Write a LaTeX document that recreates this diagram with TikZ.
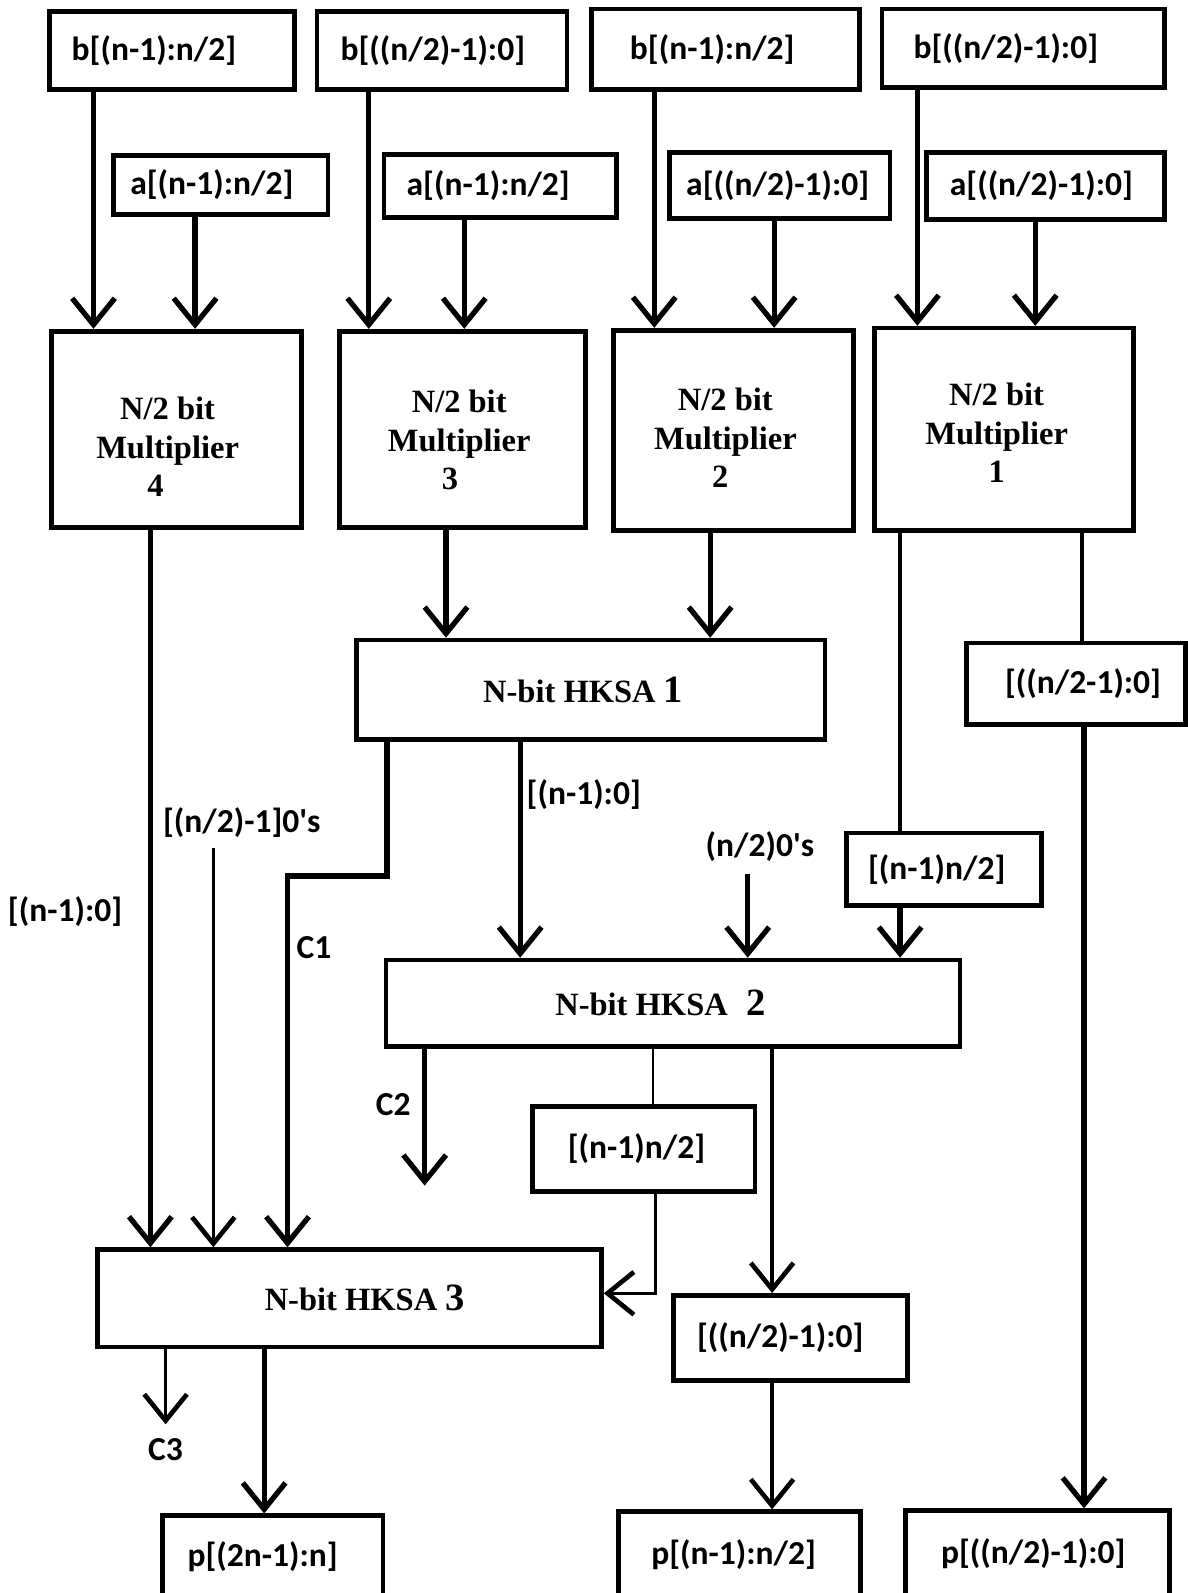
\documentclass[tikz,border=0pt]{standalone}
\usepackage{fontspec}
\setmainfont{Liberation Serif}
\newfontfamily\labfont{Carlito}
\usetikzlibrary{arrows.meta}
\begin{document}
\begin{tikzpicture}[x=0.5pt,y=-0.5pt,
  box/.style={draw, line width=2.3pt, inner sep=0pt, font=\labfont\bfseries\fontsize{16.5}{19}\selectfont},
  tbox/.style={draw, line width=2.3pt, inner sep=0pt, font=\bfseries\fontsize{16}{19}\selectfont},
  mtext/.style={align=center, inner sep=0pt, font=\bfseries\fontsize{16}{19}\selectfont},
  lab/.style={inner sep=0pt, font=\labfont\bfseries\fontsize{16.5}{19}\selectfont},
  tip/.style={-{Straight Barb[length=13pt,width=21pt]}},
  midtip/.style={-{Straight Barb[length=13pt,width=21pt,line width=2.3pt]}},
  thickarrow/.style={line width=2.6pt, tip, line join=miter},
  midarrow/.style={line width=1.7pt, midtip, line join=miter},
  midwire/.style={line width=1.7pt},
  thinwire/.style={line width=1.1pt},
]
\fill[white] (0,0) rectangle (1169,1568);
\useasboundingbox (0,0) rectangle (1169,1568);

% top b boxes
\node[box, minimum width=120.5pt, minimum height=38.5pt] (b1) at (169.5,49.5) {b[(n-1):n/2]\kern18pt};
\node[box, minimum width=123pt, minimum height=38.5pt] (b2) at (435,49.5) {b[((n/2)-1):0]\kern9pt};
\node[box, minimum width=132pt, minimum height=39.5pt] (b3) at (714,48.5) {b[(n-1):n/2]\kern13pt};
\node[box, minimum width=139pt, minimum height=38.5pt] (b4) at (1007,47.5) {b[((n/2)-1):0]\kern17pt};
% a boxes
\node[box, minimum width=105.5pt, minimum height=29pt] (a1) at (217.5,182) {a[(n-1):n/2]\kern9pt};
\node[box, minimum width=114.5pt, minimum height=31pt] (a2) at (492.5,183) {a[(n-1):n/2]\kern12pt};
\node[box, minimum width=108.5pt, minimum height=32.5pt] (a3) at (767.5,182.5) {a[((n/2)-1):0]\kern2pt};
\node[box, minimum width=117pt, minimum height=33pt] (a4) at (1029,183) {a[((n/2)-1):0]\kern4pt};

% multipliers
\node[tbox, minimum width=123pt, minimum height=96.5pt] (M4) at (174,422.5) {};
\node[tbox, minimum width=121pt, minimum height=96.5pt] (M3) at (455,422.5) {};
\node[tbox, minimum width=118pt, minimum height=98.5pt] (M2) at (722,423.5) {};
\node[tbox, minimum width=127.5pt, minimum height=99.5pt] (M1) at (988.5,422.5) {};
\node[mtext] (M4t) at (165,440) {N/2 bit\\Multiplier\\\mbox{\kern-12pt}4};
\node[mtext] (M3t) at (452,433) {N/2 bit\\Multiplier\\\mbox{\kern-9pt}3};
\node[mtext] (M2t) at (714,431) {N/2 bit\\Multiplier\\\mbox{\kern-5pt}2};
\node[mtext] (M1t) at (981,426) {N/2 bit\\Multiplier\\1};

% adders
\node[tbox, minimum width=230.5pt, minimum height=49pt] (H1) at (581.5,679) {N-bit HKSA {\fontsize{19}{19}\selectfont 1}\kern7.5pt};
\node[tbox, minimum width=282.5pt, minimum height=42.5pt] (H2) at (662.5,987.5) {N-bit HKSA\kern9pt{\fontsize{19}{19}\selectfont 2}\kern12.5pt};
\node[tbox, minimum width=248pt, minimum height=48pt] (H3) at (344,1278) {\kern15pt N-bit HKSA {\fontsize{19}{19}\selectfont 3}};

% intermediate boxes
\node[box, minimum width=108pt, minimum height=40pt] (r1) at (1059,673) {\kern7pt[((n/2-1):0]};
\node[box, minimum width=96pt, minimum height=35.5pt] (r2) at (929,855.5) {[(n-1)n/2]\kern7pt};
\node[box, minimum width=109.5pt, minimum height=42pt] (r3) at (633.5,1131) {[(n-1)n/2]\kern7pt};
\node[box, minimum width=115pt, minimum height=42pt] (r4) at (778,1317) {[((n/2)-1):0]\kern10pt};

% outputs
\node[box, minimum width=108.5pt, minimum height=40pt] (p1) at (268.5,1532) {p[(2n-1):n]\kern10pt};
\node[box, minimum width=119pt, minimum height=42pt] (p2) at (728,1530) {p[(n-1):n/2]\kern6pt};
\node[box, minimum width=130pt, minimum height=42.5pt] (p3) at (1021,1529.5) {p[((n/2)-1):0]\kern4pt};

% free labels
\node[lab, anchor=west] (l1) at (518,782) {[(n-1):0]};
\node[lab] (l2) at (748,833) {(n/2)0's};
\node[lab] (l3) at (238,810) {[(n/2)-1]0's};
\node[lab] (l4) at (64,897) {[(n-1):0]};
\node[lab] (lc1) at (309,933) {C1};
\node[lab] (lc2) at (387,1087) {C2};
\node[lab] (lc3) at (163,1427) {C3};

\coordinate (z1) at (210,835);
\coordinate (z2) at (736,860);
\coordinate (c2e) at (418,1167);
\coordinate (c3e) at (163,1402);

% inputs to multipliers
\draw[thickarrow] (b1.south -| 92,0) -- (M4.north -| 92,0);
\draw[thickarrow] (a1.south -| 192,0) -- (M4.north -| 192,0);
\draw[thickarrow] (b2.south -| 363,0) -- (M3.north -| 363,0);
\draw[thickarrow] (a2.south -| 457,0) -- (M3.north -| 457,0);
\draw[thickarrow] (b3.south -| 644,0) -- (M2.north -| 644,0);
\draw[thickarrow] (a3.south -| 762,0) -- (M2.north -| 762,0);
\draw[thickarrow] (b4.south -| 903,0) -- (M1.north -| 903,0);
\draw[thickarrow] (a4.south -| 1019,0) -- (M1.north -| 1019,0);

% multipliers to adders
\draw[thickarrow] (M3.south -| 439,0) -- (H1.north -| 439,0);
\draw[thickarrow] (M2.south -| 699,0) -- (H1.north -| 699,0);
\draw[thickarrow] (M4.south -| 148,0) -- (H3.north -| 148,0);
\draw[midarrow] (z1) -- (H3.north -| z1);
\draw[thickarrow] (H1.south -| 381,0) -- ++(0,132) -| (H3.north -| 283,0);
\draw[thickarrow] (H1.south -| 512,0) -- (H2.north -| 512,0);
\draw[thickarrow] (z2) -- (H2.north -| z2);
\draw[midwire] (M1.south -| 886,0) -- (r2.north -| 886,0);
\draw[thickarrow] (r2.south -| 886,0) -- (H2.north -| 886,0);
\draw[midwire] (M1.south -| 1065,0) -- (r1.north -| 1065,0);
\draw[thickarrow] (r1.south -| 1067,0) -- (p3.north -| 1067,0);

% from HKSA 2
\draw[thickarrow] (H2.south -| c2e) -- (c2e);
\draw[thinwire] (H2.south -| 643,0) -- (r3.north -| 643,0);
\draw[midarrow] (r3.south -| 645,0) |- (H3.east |- 0,1273);
\draw[midarrow] (H2.south -| 760,0) -- (r4.north -| 760,0);
\draw[midarrow] (r4.south -| 760,0) -- (p2.north -| 760,0);

% from HKSA 3
\draw[midarrow] (H3.south -| c3e) -- (c3e);
\draw[thickarrow] (H3.south -| 260,0) -- (p1.north -| 260,0);
\end{tikzpicture}
\end{document}
